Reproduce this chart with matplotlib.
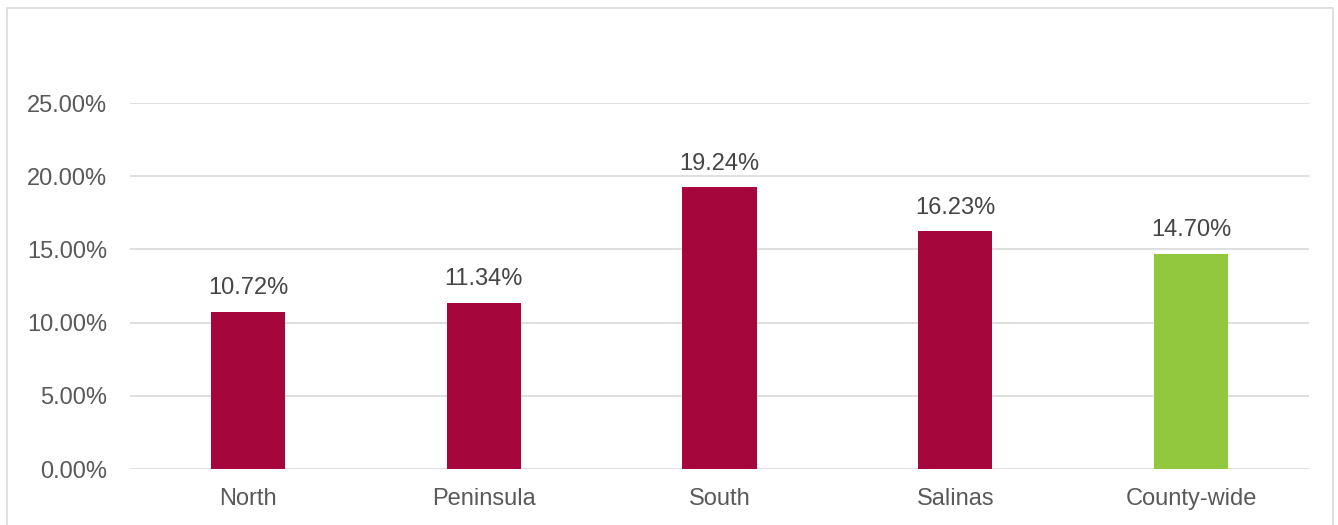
import matplotlib
matplotlib.use("Agg")
import matplotlib.pyplot as plt
from matplotlib.patches import Rectangle

regions = ["North", "Peninsula", "South", "Salinas", "County-wide"]
rates = [10.72, 11.34, 19.24, 16.23, 14.70]
bar_colors = ["#A5063B", "#A5063B", "#A5063B", "#A5063B", "#92C83E"]
y_ticks = [0, 5, 10, 15, 20, 25]

plt.rcParams["font.family"] = ["Liberation Sans", "DejaVu Sans"]

W, H = 1338, 525
fig = plt.figure(figsize=(W / 100, H / 100), dpi=100)

# chart frame
fig.patches.append(Rectangle((7 / W, -0.1), (1333 - 7) / W, 1.1 - 8 / H,
                             transform=fig.transFigure, fill=False,
                             edgecolor="#D9D9D9", linewidth=1.2))

left, right = 130 / W, 1309 / W
bottom, top = 1 - 469 / H, 1 - 103 / H
ax = fig.add_axes([left, bottom, right - left, top - bottom])

x = range(len(regions))
ax.bar(x, rates, width=0.315, color=bar_colors, zorder=3)
ax.set_xlim(-0.5, len(regions) - 0.5)
ax.set_ylim(0, 25)

ax.set_yticks(y_ticks)
ax.set_yticklabels([f"{v:.2f}%" for v in y_ticks])
ax.set_xticks(list(x))
ax.set_xticklabels(regions)
ax.tick_params(axis="both", length=0, labelsize=17, labelcolor="#595959")
ax.tick_params(axis="y", pad=16.5)
ax.tick_params(axis="x", pad=14)

ax.grid(axis="y", color="#D9D9D9", linewidth=1.2, zorder=0)
for s in ax.spines.values():
    s.set_visible(False)

for xi, v in zip(x, rates):
    ax.annotate(f"{v:.2f}%", (xi, v), xytext=(0, 17), textcoords="offset points",
                ha="center", va="center", fontsize=17, color="#454545",
                annotation_clip=False)

fig.savefig("out.png", dpi=100)
